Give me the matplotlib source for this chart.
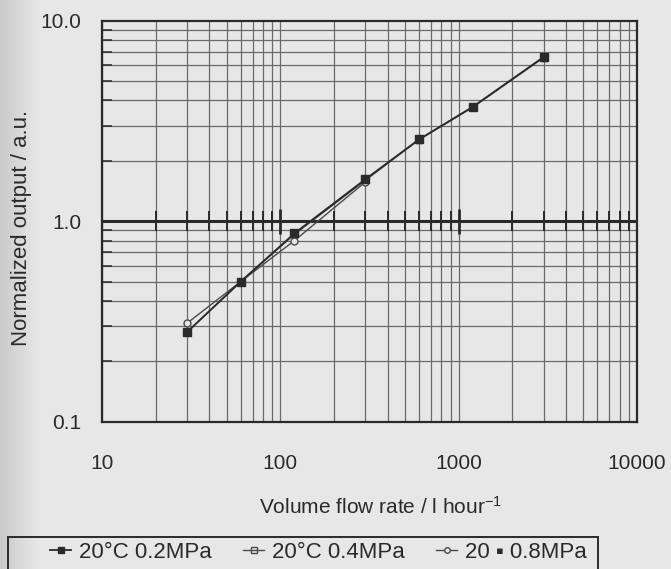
import numpy as np
import matplotlib
matplotlib.use("Agg")
import matplotlib.pyplot as plt
from matplotlib.ticker import FixedLocator, FixedFormatter, LogLocator, NullFormatter
from matplotlib.patches import Rectangle

# data
flow = [30, 60, 120, 300, 600, 1200, 3000]           # l/hour
out_02 = [0.28, 0.50, 0.87, 1.62, 2.56, 3.72, 6.6]   # 20°C 0.2MPa
out_04 = [0.28, 0.50, 0.86, 1.60, 2.55, 3.70, 6.55]  # 20°C 0.4MPa
flow_08 = [30, 60, 120, 300]
out_08 = [0.31, 0.50, 0.80, 1.57]                    # 0.8MPa
labels = ["20°C 0.2MPa", "20°C 0.4MPa", "20 \u25aa 0.8MPa"]
xticks = [10, 100, 1000, 10000]
xticklabels = ["10", "100", "1000", "10000"]
yticks = [0.1, 1.0, 10.0]
yticklabels = ["0.1", "1.0", "10.0"]

W, H = 671, 569
PAPER = "#e7e7e5"
INK = "#2a2a2a"
GRID = "#6a6a6a"

plt.rcParams["font.family"] = ["Liberation Sans", "DejaVu Sans"]
plt.rcParams["font.size"] = 15
plt.rcParams["mathtext.fontset"] = "custom"
plt.rcParams["mathtext.rm"] = "Liberation Sans"
plt.rcParams["mathtext.it"] = "Liberation Sans:italic"


def fx(px):
    return px / W


def fy(py):
    return 1 - py / H


fig = plt.figure(figsize=(W / 100, H / 100), dpi=100, facecolor=PAPER)

# scanner shadow along the left edge
bg = fig.add_axes([0, 0, 1, 1], zorder=-10)
g = np.arange(W)
shade = 0.79 + 0.115 * np.clip(g / 38.0, 0, 1)
bg.imshow(shade[None, :], cmap="gray", vmin=0, vmax=1, aspect="auto",
          extent=[0, 1, 0, 1])
bg.axis("off")

ax = fig.add_axes([fx(102), fy(421.7), fx(637) - fx(102), (421.7 - 20.7) / H])
ax.set_facecolor("none")
ax.set_xscale("log")
ax.set_yscale("log")
ax.set_xlim(10, 10000)
ax.set_ylim(0.1, 10)

ax.xaxis.set_major_locator(FixedLocator(xticks))
ax.xaxis.set_major_formatter(FixedFormatter(xticklabels))
ax.xaxis.set_minor_locator(LogLocator(base=10, subs=range(2, 10)))
ax.xaxis.set_minor_formatter(NullFormatter())
ax.yaxis.set_major_locator(FixedLocator(yticks))
ax.yaxis.set_major_formatter(FixedFormatter(yticklabels))
ax.yaxis.set_minor_locator(LogLocator(base=10, subs=range(2, 10)))
ax.yaxis.set_minor_formatter(NullFormatter())

ax.tick_params(axis="x", which="both", length=0, pad=23, labelcolor=INK)
ax.tick_params(axis="y", which="major", length=0, pad=15, labelcolor=INK)
ax.tick_params(axis="y", which="minor", direction="in", length=7, width=1.1,
               color=INK)

ax.grid(True, which="both", axis="x", color=GRID, lw=0.9)
ax.grid(True, which="minor", axis="y", color=GRID, lw=0.9)
ax.set_axisbelow(True)
for s in ax.spines.values():
    s.set_color(INK)
    s.set_linewidth(1.6)

# thick reference line at 1.0 carrying its own tick marks
ax.axhline(1.0, color=INK, lw=2.2, zorder=2)
xmin = [m * 10 ** e for e in (1, 2, 3) for m in range(2, 10)]
ax.plot(xmin, [1.0] * len(xmin), ls="none", marker="|", ms=14, mew=1.4,
        color=INK, zorder=2)
ax.plot([100, 1000], [1.0, 1.0], ls="none", marker="|", ms=18, mew=2,
        color=INK, zorder=2)

h1, = ax.plot(flow, out_02, color=INK, lw=1.3, marker="s", ms=5.5,
              mfc=INK, mec=INK, zorder=4)
h2, = ax.plot(flow, out_04, color="#4a4a4a", lw=1.0, marker="s", ms=5,
              mfc="none", mec="#4a4a4a", zorder=3)
h3, = ax.plot(flow_08, out_08, color="#4a4a4a", lw=1.0, marker="o", ms=5,
              mfc=PAPER, mec="#4a4a4a", zorder=3)

fig.text(fx(381), fy(507), "Volume flow rate / l hour$^{-1}$", ha="center",
         va="center", color=INK)
fig.text(fx(22), fy(228), "Normalized output / a.u.", rotation=90,
         ha="center", va="center", color=INK, fontsize=16)

leg = fig.legend([h1, h2, h3], labels, ncol=3, loc="center left",
                 bbox_to_anchor=(fx(30), fy(552)), frameon=False,
                 fontsize=16, handlelength=0.95, handletextpad=0.36,
                 columnspacing=1.4, labelcolor=INK)
for hdl in leg.legend_handles:
    hdl.set_markersize(4)
fig.add_artist(Rectangle((fx(8), fy(574)), fx(598) - fx(8), (574 - 537) / H,
                         transform=fig.transFigure, fill=False, ec=INK, lw=1.4))

fig.savefig("out.png", dpi=100, facecolor=fig.get_facecolor())
